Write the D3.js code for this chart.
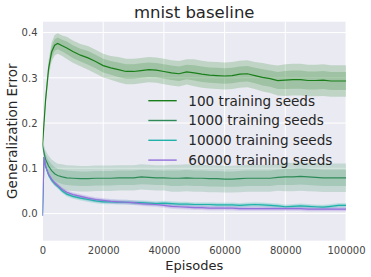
<!DOCTYPE html>
<html><head><meta charset="utf-8">
<script src="https://cdn.jsdelivr.net/npm/d3@7/dist/d3.min.js"></script>
<style>body{margin:0;background:#fff}svg{display:block;font-family:"DejaVu Sans",sans-serif}</style>
</head><body><svg id="c" width="371" height="277"></svg>
<script>
const episodes = [0,500,1000,2000,3000,4000,5000,6500,8000,10000,12500,15000,17500,20000,22500,25000,27500,30000,32500,35000,37500,40000,42500,45000,47500,50000,52500,55000,57500,60000,62500,65000,67500,70000,72500,75000,77500,80000,82500,85000,87500,90000,92500,95000,97500,100000];
const seriesNames = ["100 training seeds","1000 training seeds","10000 training seeds","60000 training seeds"];
const seeds100 = [0.15,0.20,0.25,0.32,0.357,0.372,0.376,0.371,0.366,0.358,0.350,0.344,0.336,0.327,0.322,0.318,0.314,0.314,0.316,0.318,0.317,0.314,0.311,0.309,0.313,0.311,0.308,0.306,0.305,0.304,0.305,0.308,0.309,0.305,0.301,0.298,0.294,0.295,0.296,0.296,0.294,0.294,0.295,0.293,0.293,0.293];
const std100 = [0.004,0.006,0.008,0.010,0.012,0.013,0.013,0.013,0.014,0.014,0.014,0.015,0.015,0.015,0.015,0.016,0.016,0.016,0.016,0.016,0.016,0.016,0.016,0.016,0.016,0.017,0.017,0.017,0.017,0.017,0.017,0.017,0.017,0.017,0.018,0.018,0.019,0.020,0.020,0.020,0.020,0.020,0.020,0.020,0.020,0.020];
const seeds1000 = [0.15,0.135,0.12,0.105,0.095,0.088,0.084,0.081,0.079,0.078,0.077,0.077,0.078,0.078,0.078,0.079,0.079,0.079,0.081,0.080,0.079,0.079,0.078,0.078,0.079,0.078,0.078,0.077,0.077,0.076,0.076,0.077,0.078,0.078,0.078,0.078,0.080,0.081,0.081,0.082,0.081,0.080,0.079,0.079,0.079,0.079];
const std1000 = [0.006,0.009,0.011,0.013,0.014,0.015,0.015,0.016,0.016,0.016,0.016,0.016,0.016,0.016,0.016,0.016,0.016,0.016,0.016,0.016,0.016,0.016,0.017,0.017,0.017,0.017,0.017,0.017,0.017,0.017,0.017,0.017,0.017,0.017,0.017,0.017,0.017,0.018,0.018,0.018,0.018,0.018,0.018,0.018,0.018,0.018];
const seeds10000 = [-0.005,0.125,0.105,0.085,0.074,0.066,0.060,0.050,0.043,0.038,0.034,0.031,0.028,0.026,0.026,0.025,0.025,0.024,0.024,0.023,0.022,0.023,0.022,0.021,0.021,0.020,0.020,0.020,0.019,0.019,0.019,0.018,0.019,0.020,0.019,0.018,0.017,0.015,0.016,0.017,0.016,0.015,0.014,0.016,0.018,0.018];
const std10000 = [0.002,0.003,0.003,0.003,0.003,0.003,0.003,0.003,0.003,0.003,0.003,0.003,0.003,0.003,0.003,0.003,0.003,0.003,0.003,0.003,0.003,0.003,0.003,0.003,0.003,0.003,0.003,0.003,0.003,0.003,0.003,0.003,0.003,0.003,0.003,0.003,0.003,0.003,0.003,0.003,0.003,0.003,0.003,0.003,0.003,0.003];
const seeds60000 = [-0.005,0.125,0.105,0.087,0.076,0.068,0.062,0.053,0.047,0.042,0.038,0.034,0.031,0.029,0.027,0.026,0.025,0.024,0.022,0.021,0.020,0.018,0.016,0.015,0.014,0.013,0.013,0.012,0.012,0.012,0.012,0.011,0.011,0.011,0.011,0.011,0.011,0.011,0.011,0.011,0.010,0.010,0.010,0.010,0.010,0.010];
const std60000 = [0.002,0.003,0.003,0.003,0.003,0.003,0.003,0.003,0.003,0.003,0.003,0.003,0.003,0.003,0.003,0.003,0.003,0.003,0.003,0.003,0.003,0.003,0.003,0.003,0.003,0.003,0.003,0.003,0.003,0.003,0.003,0.003,0.003,0.003,0.003,0.003,0.003,0.003,0.003,0.003,0.003,0.003,0.003,0.003,0.003,0.003];
const xTicks = [0,20000,40000,60000,80000,100000];
const yTicks = [0.0,0.1,0.2,0.3,0.4];
const colors = ["#1a7f1a","#2e8b57","#20b2aa","#9370db"];

const series = [
  {name:seriesNames[0], v:seeds100, s:std100, c:colors[0]},
  {name:seriesNames[1], v:seeds1000, s:std1000, c:colors[1]},
  {name:seriesNames[2], v:seeds10000, s:std10000, c:colors[2]},
  {name:seriesNames[3], v:seeds60000, s:std60000, c:colors[3]}
];

const L=42.5, R=346, T=21.7, B=240.7;
const x = d3.scaleLinear().domain([0,100000]).range([L,R]);
const y = d3.scaleLinear().domain([-0.06,0.424]).range([B,T]);
const svg = d3.select("#c");

svg.append("rect").attr("x",L).attr("y",T).attr("width",R-L).attr("height",B-T).attr("fill","#EAEAF2");
const g = svg.append("g");
g.selectAll(".gx").data(xTicks).enter().append("line")
 .attr("x1",d=>x(d)).attr("x2",d=>x(d)).attr("y1",T).attr("y2",B).attr("stroke","#fff").attr("stroke-width",1);
g.selectAll(".gy").data(yTicks).enter().append("line")
 .attr("y1",d=>y(d)).attr("y2",d=>y(d)).attr("x1",L).attr("x2",R).attr("stroke","#fff").attr("stroke-width",1);

svg.append("clipPath").attr("id","cp").append("rect").attr("x",L).attr("y",T).attr("width",R-L).attr("height",B-T);
const plot = svg.append("g").attr("clip-path","url(#cp)");

series.forEach(s=>{
  [1.75,1].forEach(k=>{
    const area = d3.area().x((d,i)=>x(episodes[i])).y0((d,i)=>y(s.v[i]-k*s.s[i])).y1((d,i)=>y(s.v[i]+k*s.s[i]));
    plot.append("path").datum(s.v).attr("d",area).attr("fill",s.c).attr("fill-opacity",0.2);
  });
});
series.forEach(s=>{
  const line = d3.line().x((d,i)=>x(episodes[i])).y(d=>y(d));
  plot.append("path").datum(s.v).attr("d",line).attr("fill","none").attr("stroke",s.c).attr("stroke-width",1.2);
});

// axes
const xa = svg.append("g").attr("transform",`translate(0,${B})`).call(d3.axisBottom(x).tickValues(xTicks).tickSize(0).tickPadding(6.4).tickFormat(d3.format("d")));
const ya = svg.append("g").attr("transform",`translate(${L},0)`).call(d3.axisLeft(y).tickValues(yTicks).tickSize(0).tickPadding(5).tickFormat(d3.format(".1f")));
[xa,ya].forEach(a=>{a.select(".domain").remove(); a.selectAll("text").attr("fill","#444").style("font-size","10px").style("font-family","DejaVu Sans");});

svg.append("text").attr("x",(L+R)/2).attr("y",18).attr("text-anchor","middle").style("font-size","16.5px").attr("fill","#262626").text("mnist baseline");
svg.append("text").attr("x",(L+R)/2).attr("y",269.5).attr("text-anchor","middle").style("font-size","13px").attr("fill","#262626").text("Episodes");
svg.append("text").attr("transform",`translate(16.5,${(T+B)/2}) rotate(-90)`).attr("text-anchor","middle").style("font-size","13.5px").attr("fill","#262626").text("Generalization Error");

const lg = svg.append("g");
series.forEach((s,i)=>{
  const yy = 100.7 + i*19.8;
  lg.append("line").attr("x1",148.3).attr("x2",176.7).attr("y1",yy).attr("y2",yy).attr("stroke",s.c).attr("stroke-width",1.4);
  lg.append("text").attr("x",188.3).attr("y",yy+4.8).style("font-size","13.6px").attr("fill","#262626").text(s.name);
});
</script></body></html>
